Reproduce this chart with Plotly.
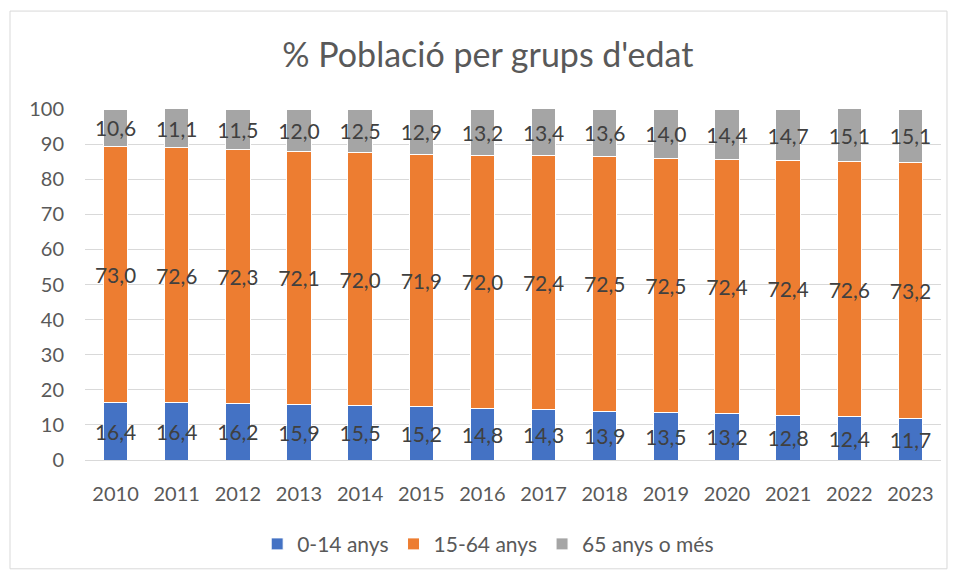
import plotly.graph_objects as go

# Percentatge de població per grups d'edat
years = ["2010", "2011", "2012", "2013", "2014", "2015", "2016",
         "2017", "2018", "2019", "2020", "2021", "2022", "2023"]
age_0_14 = [16.4, 16.4, 16.2, 15.9, 15.5, 15.2, 14.8, 14.3, 13.9, 13.5, 13.2, 12.8, 12.4, 11.7]
age_15_64 = [73.0, 72.6, 72.3, 72.1, 72.0, 71.9, 72.0, 72.4, 72.5, 72.5, 72.4, 72.4, 72.6, 73.2]
age_65 = [10.6, 11.1, 11.5, 12.0, 12.5, 12.9, 13.2, 13.4, 13.6, 14.0, 14.4, 14.7, 15.1, 15.1]
y_ticks = [0, 10, 20, 30, 40, 50, 60, 70, 80, 90, 100]

FONT = "Lato"
LABEL_COLOR = "#404040"
TICK_COLOR = "#595959"

series = [
    ("0-14 anys", age_0_14, "#4472C4"),
    ("15-64 anys", age_15_64, "#ED7D31"),
    ("65 anys o més", age_65, "#A5A5A5"),
]

fig = go.Figure()
for name, values, color in series:
    fig.add_trace(go.Bar(
        x=years,
        y=values,
        name=name,
        marker={"color": color, "line": {"color": "white", "width": 1}},
        texttemplate="%{y:.1f}",
        textposition="inside",
        insidetextanchor="middle",
        constraintext="none",
        textangle=0,
        insidetextfont={"family": FONT, "size": 21, "color": LABEL_COLOR},
        hoverinfo="x+y+name",
    ))

# the page body adds an 8px offset, so the figure is sized to fit the window
fig.update_layout(
    width=941,
    height=565,
    barmode="stack",
    bargap=0.6,
    separators=",.",
    paper_bgcolor="white",
    plot_bgcolor="white",
    font={"family": FONT, "color": TICK_COLOR, "size": 20},
    margin={"l": 77, "r": 8, "t": 101, "b": 109},
    title={
        "text": "% Població per grups d'edat",
        "x": 0.51,
        "xanchor": "center",
        "y": 0.917,
        "yanchor": "middle",
        "font": {"family": FONT, "size": 34, "color": TICK_COLOR},
    },
    xaxis={
        "showgrid": False,
        "showline": True,
        "linecolor": "#D9D9D9",
        "linewidth": 1,
        "ticks": "",
        "ticklabelstandoff": 16,
        "tickfont": {"size": 20, "color": TICK_COLOR},
    },
    yaxis={
        "range": [0, 100],
        "tickvals": y_ticks,
        "showgrid": True,
        "gridcolor": "#D9D9D9",
        "gridwidth": 1,
        "zeroline": False,
        "ticks": "",
        "ticklabelstandoff": 20,
        "tickfont": {"size": 20, "color": TICK_COLOR},
    },
    legend={
        "orientation": "h",
        "x": 0.471,
        "xanchor": "center",
        "y": -0.24,
        "yanchor": "middle",
        "font": {"size": 21, "color": TICK_COLOR},
        "itemwidth": 30,
        "traceorder": "normal",
    },
    shapes=[{
        "type": "rect",
        "xref": "paper",
        "yref": "paper",
        "x0": -0.0876,
        "x1": 1.007,
        "y0": -0.31,
        "y1": 1.279,
        "line": {"color": "#D9D9D9", "width": 1},
        "fillcolor": "rgba(0,0,0,0)",
        "layer": "below",
    }],
)

fig.write_html("out.html")
